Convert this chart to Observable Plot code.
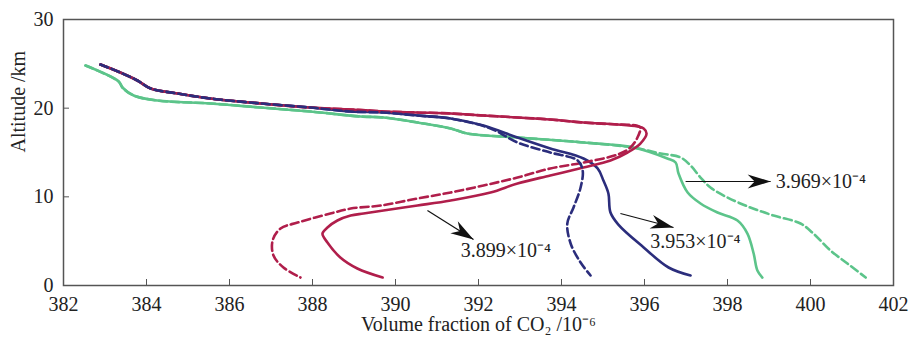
<!DOCTYPE html>
<html><head><meta charset="utf-8">
<script src="https://cdn.jsdelivr.net/npm/d3@7"></script>
<script src="https://cdn.jsdelivr.net/npm/@observablehq/plot@0.6"></script>
<style>body{margin:0;background:#fff} svg{font-family:"Liberation Serif",serif}</style>
</head><body><div id="chart"></div>
<script>
// Shared upper segment (red & blue)
const topX = [382.89, 383.37, 383.78, 384.10, 384.75, 385.54, 386.75, 387.95];
const topY = [24.92, 24.02, 23.12, 22.22, 21.65, 21.09, 20.53, 20.07];

const redUpperX = [388.92, 389.71, 390.53, 391.33, 392.12, 392.94, 393.73, 394.53, 395.35];
const redUpperY = [19.85, 19.63, 19.51, 19.40, 19.17, 18.95, 18.72, 18.38, 18.16];

const redSolidLowX = [395.83, 395.98, 396.05, 395.90, 395.59, 395.18, 394.53, 393.73, 392.94, 392.29, 391.33, 390.53, 389.71, 389.23, 388.92, 388.60, 388.36, 388.24, 388.36, 388.67, 389.08, 389.69];
const redSolidLowY = [17.93, 17.71, 17.14, 16.01, 15.00, 14.10, 13.31, 12.41, 11.50, 10.49, 9.59, 9.02, 8.46, 8.12, 7.89, 7.33, 6.54, 5.86, 4.85, 3.16, 1.92, 0.90];

const redDashLowX = [395.81, 395.90, 395.83, 395.66, 395.35, 394.53, 393.73, 392.94, 392.12, 391.33, 390.53, 389.64, 388.92, 388.43, 387.64, 387.23, 387.04, 387.06, 387.30, 387.71];
const redDashLowY = [18.04, 17.82, 16.69, 15.56, 14.77, 13.87, 13.20, 12.18, 11.28, 10.49, 9.81, 9.02, 8.68, 8.12, 7.10, 6.43, 5.08, 3.38, 2.03, 0.90];

const blueUpperX = [388.92, 389.71, 390.53, 391.33];
const blueUpperY = [19.62, 19.51, 19.17, 18.83];

const blueSolidLowX = [392.12, 392.94, 393.73, 394.53, 394.87, 395.01, 395.13, 395.18, 395.37, 395.98, 396.58, 397.11];
const blueSolidLowY = [18.04, 16.69, 15.45, 14.32, 13.20, 11.84, 10.38, 8.23, 6.87, 4.29, 2.03, 1.13];

const blueDashLowX = [392.29, 392.94, 393.73, 394.39, 394.51, 394.46, 394.29, 394.14, 394.22, 394.46, 394.70];
const blueDashLowY = [17.71, 16.13, 15.00, 14.10, 12.97, 11.05, 8.80, 6.99, 4.74, 2.59, 1.13];

const greenUpperX = [382.53, 383.33, 383.42, 383.69, 384.27, 385.54, 386.75, 387.95, 389.16, 389.71, 390.53, 391.33, 391.73, 392.94, 394.53, 395.73];
const greenUpperY = [24.81, 23.01, 22.33, 21.43, 20.86, 20.53, 20.07, 19.62, 19.06, 18.95, 18.38, 17.71, 17.14, 16.69, 16.13, 15.56];

const greenSolidLowX = [396.55, 396.75, 396.82, 397.04, 397.35, 397.76, 398.24, 398.48, 398.63, 398.72, 398.84];
const greenSolidLowY = [14.32, 13.87, 12.63, 10.49, 9.25, 8.23, 7.33, 5.86, 3.61, 1.69, 0.90];

const greenDashLowX = [396.39, 396.87, 397.11, 397.35, 397.59, 398.00, 398.55, 399.11, 399.76, 400.07, 400.48, 400.89, 401.33];
const greenDashLowY = [14.89, 14.44, 13.53, 12.18, 11.05, 9.92, 8.80, 7.89, 6.99, 5.86, 3.95, 2.48, 0.90];

// annotations
const annoLabels = ["3.899×10⁻⁴", "3.953×10⁻⁴", "3.969×10⁻⁴"];
const annoX = [391.57, 396.14, 399.16];
const annoY = [3.95, 4.96, 11.73];
const arrowX1 = [390.77, 395.42, 396.99];
const arrowY1 = [8.46, 8.12, 11.73];
const arrowX2 = [391.88, 396.70, 399.04];
const arrowY2 = [5.19, 6.54, 11.73];

const xTickLabels = [382, 384, 386, 388, 390, 392, 394, 396, 398, 400, 402];
const yTickLabels = [0, 10, 20, 30];
const xInnerTicks = [384, 386, 388, 390, 392, 394, 396, 398, 400];
const yInnerTicks = [10, 20];

const xLabel = "Volume fraction of CO₂ /10⁻⁶";
const yLabel = "Altitude /km";

const colors = {red: "#b01e4b", blue: "#2b2d7c", green: "#5cc48a"};

function pts(xs, ys) { return xs.map((x, i) => ({x, y: ys[i]})); }
const series = {
  greenDash: pts([...greenUpperX, ...greenDashLowX], [...greenUpperY, ...greenDashLowY]),
  greenSolid: pts([...greenUpperX, ...greenSolidLowX], [...greenUpperY, ...greenSolidLowY]),
  blueSolid: pts([...topX, ...blueUpperX, ...blueSolidLowX], [...topY, ...blueUpperY, ...blueSolidLowY]),
  redDash: pts([...topX, ...redUpperX, ...redDashLowX], [...topY, ...redUpperY, ...redDashLowY]),
  redSolid: pts([...topX, ...redUpperX, ...redSolidLowX], [...topY, ...redUpperY, ...redSolidLowY]),
  blueDash: pts([...topX, ...blueUpperX, ...blueDashLowX], [...topY, ...blueUpperY, ...blueDashLowY])
};
const arrows = arrowX1.map((x1, i) => ({x1, y1: arrowY1[i], x2: arrowX2[i], y2: arrowY2[i]}));
const annos = annoLabels.map((t, i) => ({t, x: annoX[i], y: annoY[i]}));

const sw = 2.6, dash = "8,4";
const plot = Plot.plot({
  width: 909, height: 340,
  marginLeft: 63, marginRight: 16, marginTop: 19, marginBottom: 55,
  style: {fontSize: "20px", fontFamily: "'Liberation Serif', serif", background: "#fff", overflow: "visible"},
  x: {domain: [382, 402]},
  y: {domain: [0, 30]},
  marks: [
    Plot.line(series.greenDash, {x: "x", y: "y", stroke: colors.green, strokeWidth: sw, strokeDasharray: dash, curve: "catmull-rom"}),
    Plot.line(series.greenSolid, {x: "x", y: "y", stroke: colors.green, strokeWidth: sw, curve: "catmull-rom"}),
    Plot.line(series.blueSolid, {x: "x", y: "y", stroke: colors.blue, strokeWidth: sw, curve: "catmull-rom"}),
    Plot.line(series.redDash, {x: "x", y: "y", stroke: colors.red, strokeWidth: sw, strokeDasharray: dash, curve: "catmull-rom"}),
    Plot.line(series.redSolid, {x: "x", y: "y", stroke: colors.red, strokeWidth: sw, curve: "catmull-rom"}),
    Plot.line(series.blueDash, {x: "x", y: "y", stroke: colors.blue, strokeWidth: sw, strokeDasharray: dash, curve: "catmull-rom"}),
    Plot.link(arrows, {x1: "x1", y1: "y1", x2: "x2", y2: "y2", stroke: "#111", strokeWidth: 1.2}),
    Plot.text(annos, {x: "x", y: "y", text: "t", textAnchor: "start", fontSize: 20, fill: "#222"}),
    Plot.frame({stroke: "#555", strokeWidth: 1.5}),
    Plot.axisX({ticks: xInnerTicks, tickSize: -6, tickFormat: () => "", label: null, stroke: "#555"}),
    Plot.axisX({ticks: xTickLabels, tickSize: 0, tickPadding: 11, label: null, fill: "#222"}),
    Plot.axisY({ticks: yInnerTicks, tickSize: -6, tickFormat: () => "", label: null, stroke: "#555"}),
    Plot.axisY({ticks: yTickLabels, tickSize: 0, tickPadding: 10, label: null, fill: "#222"}),
    Plot.text([xLabel], {text: d => d, frameAnchor: "bottom", dy: 45, fontSize: 20, fill: "#222"}),
    Plot.text([yLabel], {text: d => d, frameAnchor: "left", dx: -45, rotate: -90, fontSize: 20, fill: "#222"})
  ]
});
document.getElementById("chart").appendChild(plot);

// filled stealth arrowheads
const ns = "http://www.w3.org/2000/svg";
const defs = document.createElementNS(ns, "defs");
const marker = document.createElementNS(ns, "marker");
marker.setAttribute("id", "stealth");
marker.setAttribute("viewBox", "-24 -8 25 16");
marker.setAttribute("markerWidth", "25");
marker.setAttribute("markerHeight", "16");
marker.setAttribute("markerUnits", "userSpaceOnUse");
marker.setAttribute("refX", "0");
marker.setAttribute("refY", "0");
marker.setAttribute("orient", "auto");
const mp = document.createElementNS(ns, "path");
mp.setAttribute("d", "M0,0 L-23,-7 L-16,0 L-23,7 Z");
mp.setAttribute("fill", "#111");
marker.appendChild(mp);
defs.appendChild(marker);
plot.insertBefore(defs, plot.firstChild);
plot.querySelectorAll('g[aria-label="link"] path, g[aria-label="link"] line').forEach(p => p.setAttribute("marker-end", "url(#stealth)"));
</script>
</body></html>
